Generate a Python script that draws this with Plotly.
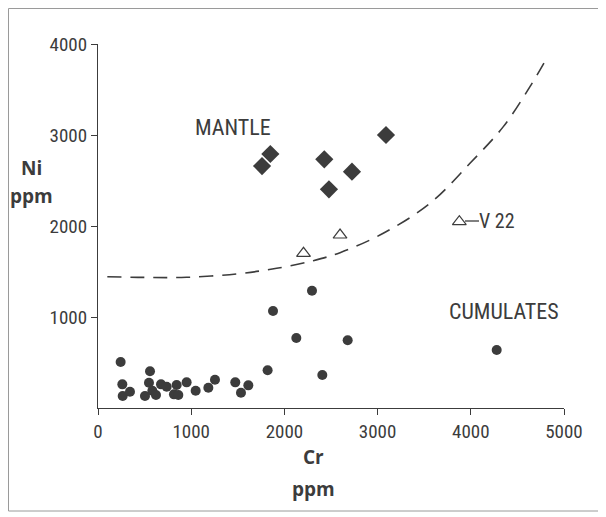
import plotly.graph_objects as go

# ---- data ----
cumulate_cr = [243, 261, 265, 343, 558, 547, 504, 583, 622, 676, 737, 844, 815, 862,
               951, 1048, 1184, 1255, 1473, 1534, 1613, 1820, 1878, 2128, 2296, 2407,
               2679, 4278]
cumulate_ni = [505, 260, 132, 179, 403, 278, 132, 190, 143, 260, 234, 253, 150, 143,
               282, 190, 223, 311, 282, 168, 249, 414, 1066, 769, 1289, 363,
               744, 637]

mantle_cr = [1760, 1849, 2428, 2478, 2725, 3090]
mantle_ni = [2659, 2791, 2733, 2403, 2597, 3000]

open_cr = [2205, 2597, 3877]
open_ni = [1700, 1901, 2047]

curve_cr = [100, 500, 950, 1500, 1917, 2310, 2597, 3061, 3562, 3991, 4349, 4635, 4814]
curve_ni = [1443, 1435, 1436, 1475, 1535, 1619, 1707, 1920, 2249, 2689, 3092, 3531, 3843]

x_ticks = [0, 1000, 2000, 3000, 4000, 5000]
y_ticks = [1000, 2000, 3000, 4000]

# ---- layout geometry (page pixels; page shows the figure offset by 8px) ----
W, H = 606, 517
OFF = 8
L, R, T, B = 98 - OFF, 564 - OFF, 44 - OFF, 408 - OFF  # plot area in figure pixels

def px(x):
    return (x - OFF - L) / (R - L)

def py(y):
    return (B - (y - OFF)) / (B - T)

INK = "#3c3c3c"
FONT = "Liberation Sans Narrow, Roboto Condensed, Roboto, Open Sans, sans-serif"
BOLD = "Open Sans, sans-serif"

fig = go.Figure()

fig.add_trace(go.Scatter(
    x=curve_cr, y=curve_ni, mode="lines", line_shape="spline",
    line=dict(color=INK, width=1.6, dash="14px,9px"), hoverinfo="skip"))

fig.add_trace(go.Scatter(
    x=cumulate_cr, y=cumulate_ni, mode="markers",
    marker=dict(symbol="circle", size=10, color=INK, line=dict(width=0))))

fig.add_trace(go.Scatter(
    x=mantle_cr, y=mantle_ni, mode="markers",
    marker=dict(symbol="diamond", size=14, color=INK, line=dict(width=0))))

fig.add_trace(go.Scatter(
    x=open_cr, y=open_ni, mode="markers",
    marker=dict(symbol="triangle-up-open", size=12, color=INK, line=dict(width=1.2, color=INK))))

annotations = [
    dict(x=px(233), y=py(128), text="MANTLE", size=22),
    dict(x=px(504), y=py(311), text="CUMULATES", size=22),
    dict(x=px(497), y=py(221), text="V 22", size=20),
    dict(x=px(31), y=py(168), text="<b>Ni</b>", size=19, fam=BOLD),
    dict(x=px(31), y=py(196), text="<b>ppm</b>", size=19, fam=BOLD),
    dict(x=px(313), y=py(457), text="<b>Cr</b>", size=19, fam=BOLD),
    dict(x=px(313), y=py(489), text="<b>ppm</b>", size=19, fam=BOLD),
]
fig.update_layout(annotations=[
    dict(xref="paper", yref="paper", x=a["x"], y=a["y"], text=a["text"],
         showarrow=False, xanchor="center", yanchor="middle",
         font=dict(family=a.get("fam", FONT), size=a.get("size", 16), color=INK))
    for a in annotations
])

fig.update_layout(shapes=[
    # connector line from V22 triangle to its label
    dict(type="line", xref="paper", yref="paper",
         x0=px(465), x1=px(479), y0=py(221), y1=py(221),
         line=dict(color=INK, width=1.3)),
    # outer frame
    dict(type="rect", xref="paper", yref="paper",
         x0=px(8.5), x1=px(602), y0=py(8.5), y1=py(511),
         line=dict(color="#9a9a9a", width=1)),
])

fig.update_xaxes(
    range=[0, 5000], tickvals=x_ticks, ticktext=[str(v) for v in x_ticks],
    showgrid=False, zeroline=False, showline=True, linecolor=INK, linewidth=1.3,
    ticks="outside", ticklen=6, tickcolor=INK, tickwidth=1.2,
    tickfont=dict(family=FONT, size=19, color=INK))
fig.update_yaxes(
    range=[0, 4000], tickvals=y_ticks, ticktext=[str(v) for v in y_ticks],
    showgrid=False, zeroline=False, showline=True, linecolor=INK, linewidth=1.3,
    ticks="outside", ticklen=6, tickcolor=INK, tickwidth=1.2,
    tickfont=dict(family=FONT, size=19, color=INK))

fig.update_layout(
    width=W, height=H, showlegend=False,
    margin=dict(l=L, r=W - R, t=T, b=H - B, autoexpand=False),
    paper_bgcolor="white", plot_bgcolor="white")

fig.write_html("out.html")
